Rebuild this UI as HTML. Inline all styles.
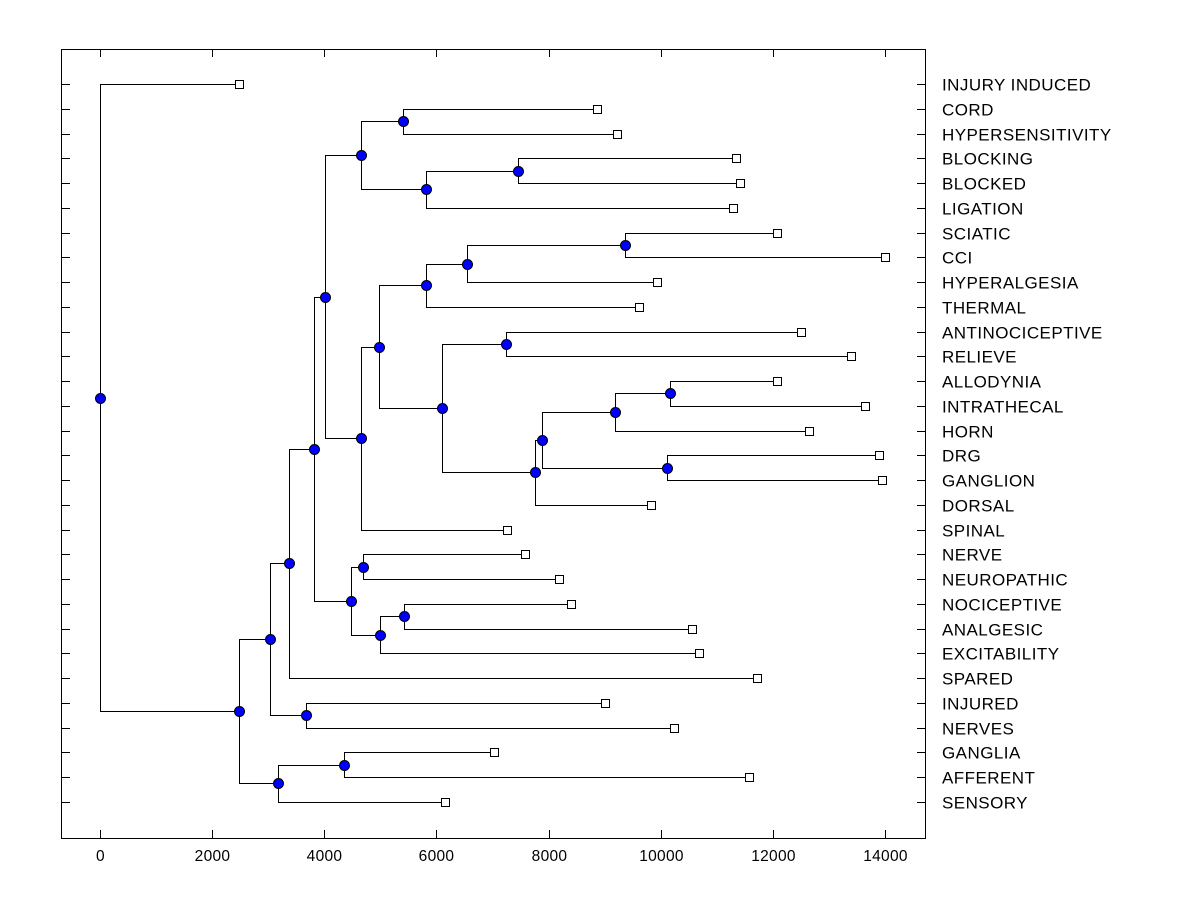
<!DOCTYPE html>
<html><head><meta charset="utf-8"><style>
html,body{margin:0;padding:0;background:#fff;}
svg{display:block;font-family:"Liberation Sans",Arial,sans-serif;}
</style></head><body>
<svg id="chart" width="1200" height="900">
<rect x="0" y="0" width="1200" height="900" fill="#fff"/>
<g id="plot"></g>
</svg>
<script>
const leafNames=["INJURY INDUCED","CORD","HYPERSENSITIVITY","BLOCKING","BLOCKED","LIGATION","SCIATIC","CCI","HYPERALGESIA","THERMAL","ANTINOCICEPTIVE","RELIEVE","ALLODYNIA","INTRATHECAL","HORN","DRG","GANGLION","DORSAL","SPINAL","NERVE","NEUROPATHIC","NOCICEPTIVE","ANALGESIC","EXCITABILITY","SPARED","INJURED","NERVES","GANGLIA","AFFERENT","SENSORY"];
const leafValues=[2482,8857,9214,11339,11411,11286,12071,14000,9929,9607,12500,13393,12071,13643,12643,13893,13946,9821,7250,7571,8179,8393,10554,10679,11714,9000,10232,7018,11571,6161];
const nodeChildren=[
["L1","L2"],["L3","L4"],["N1","L5"],["N0","N2"],
["L6","L7"],["N4","L8"],["N5","L9"],["L10","L11"],
["L12","L13"],["N8","L14"],["L15","L16"],["N9","N10"],
["N11","L17"],["N7","N12"],["N6","N13"],["N14","L18"],
["N3","N15"],["L19","L20"],["L21","L22"],["N18","L23"],
["N17","N19"],["N16","N20"],["N21","L24"],["L25","L26"],
["N22","N23"],["L27","L28"],["N25","L29"],["N24","N26"],
["L0","N27"]];
const nodeValues=[5411,7446,5821,4661,9357,6554,5821,7232,10161,9179,10107,7875,7750,6107,4982,4661,4018,4696,5429,5000,4482,3821,3375,3679,3036,4357,3179,2482,0];
const xTicks=[0,2000,4000,6000,8000,10000,12000,14000];

const L=61,R=925,T=49,B=838;
const xMin=-696,xMax=14714;
const X=v=>L+(v-xMin)/(xMax-xMin)*(R-L);
const Y=i=>84+i*(802-84)/(leafNames.length-1);
const NS="http://www.w3.org/2000/svg";
const g=document.getElementById('plot');
function mk(t,a){const e=document.createElementNS(NS,t);for(const k in a)e.setAttribute(k,a[k]);g.appendChild(e);return e;}

const frame=mk('rect',{x:L+.5,y:T+.5,width:R-L,height:B-T,fill:'none',stroke:'#000','stroke-width':1});



xTicks.forEach(v=>{
  const x=Math.round(X(v))+.5;
  const t1=mk('line',{x1:x,x2:x,y1:B,y2:B-8,stroke:'#000'});
  
  
  const t2=mk('line',{x1:x,x2:x,y1:T,y2:T+8,stroke:'#000'});
  
  
  const lb=mk('text',{x:x,y:861,'text-anchor':'middle','font-size':15.5,'letter-spacing':0.3,fill:'#000'});
  lb.textContent=v;
  
  
});

leafNames.forEach((n,i)=>{
  const y=Math.round(Y(i))+.5;
  const a=mk('line',{x1:L,x2:L+9,y1:y,y2:y,stroke:'#000'});
  
  
  const b=mk('line',{x1:R-8,x2:R,y1:y,y2:y,stroke:'#000'});
  
  
  const t=mk('text',{x:942,y:y+6,'font-size':17,'letter-spacing':0.45,fill:'#000'});
  t.textContent=n;
  
  
});

const pos={};
leafNames.forEach((n,i)=>{pos['L'+i]={x:X(leafValues[i]),y:Y(i)};});
nodeChildren.forEach((c,i)=>{
  const a=pos[c[0]],b=pos[c[1]];
  pos['N'+i]={x:X(nodeValues[i]),y:(a.y+b.y)/2};
});
const dots=[];
nodeChildren.forEach((c,i)=>{
  const p=pos['N'+i],a=pos[c[0]],b=pos[c[1]];
  const px=Math.round(p.x)+.5;
  const d='M'+Math.round(a.x)+','+(Math.round(a.y)+.5)+'H'+px+'V'+(Math.round(b.y)+.5)+'H'+Math.round(b.x);
  const e=mk('path',{d:d,fill:'none',stroke:'#000','stroke-width':1});
  
  
  dots.push(p);
});
leafNames.forEach((n,i)=>{
  const p=pos['L'+i];
  const s=mk('rect',{x:Math.round(p.x)-3.5,y:Math.round(p.y)-3.5,width:8,height:8,fill:'#fff',stroke:'#000'});
  
  
});
dots.forEach(p=>{
  const c=mk('circle',{cx:Math.round(p.x)+.5,cy:Math.round(p.y)+.5,r:5,fill:'#0000ff',stroke:'#000','stroke-width':1});
  
  
});
</script>
</body></html>
